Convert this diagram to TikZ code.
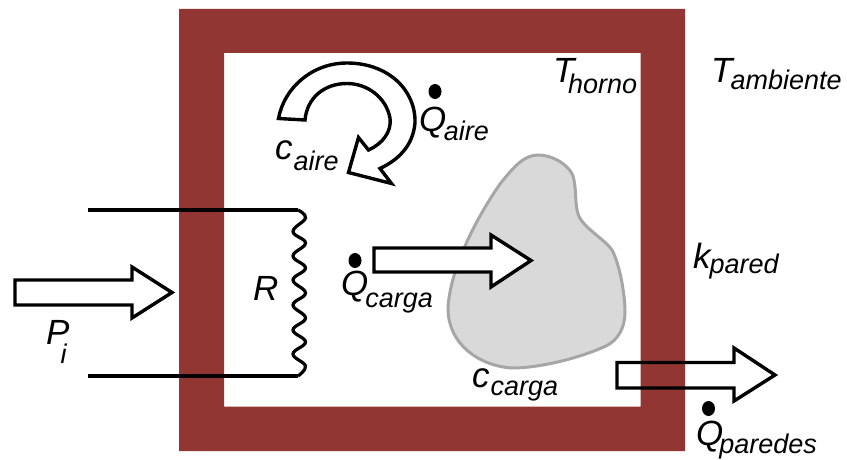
\documentclass[tikz,border=0pt]{standalone}
\usepackage{fontspec}
\setmainfont{Liberation Sans}
\newcommand\lab[4]{{\fontsize{35}{35}\selectfont\itshape #1}\kern#3pt\raisebox{-#4pt}{\fontsize{27}{27}\selectfont\itshape #2}}
\definecolor{wall}{HTML}{923634}
\definecolor{loadfill}{HTML}{D9D9D9}
\definecolor{loadline}{HTML}{A6A6A6}
\tikzset{
  wallshape/.style={fill=wall,even odd rule},
  load/.style={fill=loadfill,draw=loadline,line width=3pt},
  fat/.style={draw=black,line width=3.4pt,miter limit=10,line join=miter},
  wire/.style={draw=black,line width=3.2pt},
  lbl/.style={inner sep=0pt,anchor=base west,text=black}
}
\begin{document}
\begin{tikzpicture}[x=1pt,y=-1pt]
\useasboundingbox (0,0) rectangle (847,460);
% wall
\fill[wallshape] (179,9) rectangle (685,451) (224,53) rectangle (640.5,406.5);
% load
\path[load] (538,155) .. controls (555,155) and (573,168) .. (574,180)
  .. controls (577,195) and (574,210) .. (581,220)
  .. controls (590,232) and (605,240) .. (612,250)
  .. controls (620,265) and (625,295) .. (625,312)
  .. controls (625,328) and (618,340) .. (606,346)
  .. controls (580,358) and (540,368) .. (512,368)
  .. controls (480,366) and (448,345) .. (448,308)
  .. controls (450,270) and (475,220) .. (500,184)
  .. controls (515,165) and (525,155) .. (538,155) -- cycle;
% wires and resistor
\coordinate (wta) at (88,210);
\coordinate (wtb) at (298,210);
\coordinate (wba) at (88,376);
\coordinate (wbb) at (298,376);
\draw[wire] (wta) -- (wtb);
\draw[wire] (wba) -- (wbb);
\draw[line width=3.2pt,black,smooth,tension=0.7] plot coordinates {(wtb) (305.5,218) (293,231.5) (305.5,243) (293,256) (305.5,268) (293,280) (305.5,293) (293,305) (305.5,318) (293,330) (305.5,342) (293,354) (305.5,366) (wbb)};
% block arrows
\path[fat,fill=white] (15,280) -- (132,280) -- (132,267) -- (172,292.5) -- (132,318) -- (132,305) -- (15,305) -- cycle;
\path[fat,fill=white] (374,248) -- (491,248) -- (491,235) -- (531,260.5) -- (491,287) -- (491,272) -- (374,272) -- cycle;
\path[fat] (617,362.5) -- (734,362.5) -- (734,348) -- (775,375) -- (734,401) -- (734,388) -- (617,388) -- cycle;
% recirculating arrow
\path[fat,fill=white] (278.5,118.5) .. controls (284,88) and (312,63) .. (347,63)
  .. controls (388,63) and (416,90) .. (415,123)
  .. controls (413,146) and (398,160) .. (380,168.5)
  -- (391.5,183.5) -- (348.5,172.5) -- (358.5,137.5) -- (368.5,150)
  .. controls (382,144) and (392,132) .. (390,118)
  .. controls (386,97) and (367,83.5) .. (347,83.5)
  .. controls (324,83.5) and (307,98) .. (305,120) -- cycle;
% dots
\fill[black] (435,91.5) ellipse (6.5 and 7.5);
\fill[black] (355,260.5) ellipse (6.5 and 7.5);
\fill[black] (708.5,408.5) ellipse (6.5 and 7.5);
% labels
\node[lbl] (thorno) at (553,83) {\lab{T}{horno}{-6.5}{11}};
\node[lbl] (tamb) at (711,83) {\lab{T}{ambiente}{-2}{7}};
\node[lbl] (qaire) at (419,131.5) {\lab{Q}{aire}{-2.5}{9}};
\node[lbl] (caire) at (275,160) {\lab{c}{aire}{1}{10}};
\node[lbl] (pi) at (46,344) {\lab{P}{i}{-9}{19}};
\node[lbl] (res) at (253,300) {\lab{R}{}{0}{0}};
\node[lbl] (qcarga) at (341,295.5) {\lab{Q}{carga}{-3}{12}};
\node[lbl] (kpared) at (693,268) {\lab{k}{pared}{-1}{5}};
\node[lbl] (ccarga) at (472,387) {\lab{c}{carga}{1}{8}};
\node[lbl] (qparedes) at (696,445) {\lab{Q}{paredes}{-4}{8}};
\end{tikzpicture}
\end{document}
